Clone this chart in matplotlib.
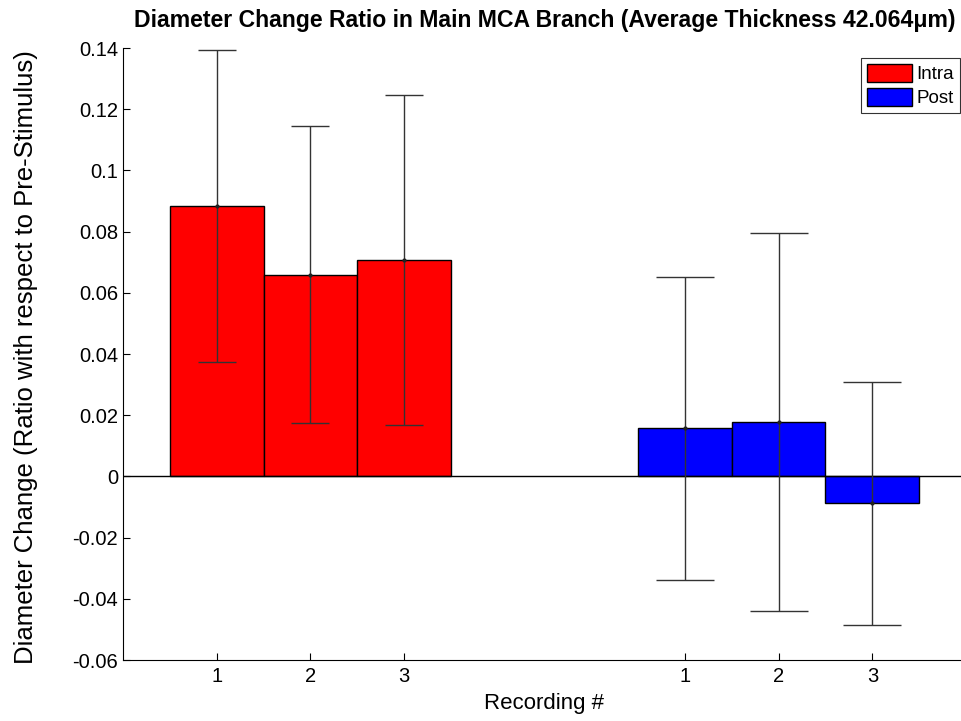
import matplotlib
matplotlib.use('Agg')
import matplotlib.pyplot as plt
import numpy as np

plt.rcParams['font.family'] = ['Liberation Sans', 'DejaVu Sans']

# Datos
recordings = ['1', '2', '3']
intra_mean = [0.0884, 0.0659, 0.0707]
intra_err = [0.0511, 0.0485, 0.0538]
post_mean = [0.0157, 0.0177, -0.0088]
post_err = [0.0494, 0.0618, 0.0396]
groups = [1, 2]
offsets = [-0.2, 0.0, 0.2]
bar_w = 0.2

fig = plt.figure(figsize=(9.62, 7.21), dpi=100)
ax = fig.add_axes([123 / 962, 61 / 721, 843 / 962, 612 / 721])

x_intra = groups[0] + np.array(offsets)
x_post = groups[1] + np.array(offsets)

ax.bar(x_intra, intra_mean, bar_w, color='#ff0000', edgecolor='black', linewidth=1, label='Intra', zorder=2)
ax.bar(x_post, post_mean, bar_w, color='#0000ff', edgecolor='black', linewidth=1, label='Post', zorder=2)

ax.errorbar(x_intra, intra_mean, yerr=intra_err, fmt='.', color='#222222', ecolor='#333333',
            elinewidth=1, capsize=14, capthick=1, markersize=4, zorder=3)
ax.errorbar(x_post, post_mean, yerr=post_err, fmt='.', color='#222222', ecolor='#333333',
            elinewidth=1, capsize=21, capthick=1, markersize=4, zorder=3)

ax.axhline(0, color='black', linewidth=1, zorder=2.5)

ax.set_xlim(0.6, 2.4)
ax.set_ylim(-0.06, 0.14)
ax.set_yticks(np.arange(-0.06, 0.141, 0.02))
ax.set_yticklabels(['-0.06', '-0.04', '-0.02', '0', '0.02', '0.04', '0.06', '0.08', '0.1', '0.12', '0.14'])
ax.set_xticks(list(x_intra) + list(x_post))
ax.set_xticklabels(recordings + recordings)
ax.tick_params(direction='in', length=5, labelsize=14.5, width=0.8)
ax.tick_params(axis='x', pad=5)

for side in ['top', 'right']:
    ax.spines[side].set_visible(False)

ax.set_title('Diameter Change Ratio in Main MCA Branch (Average Thickness 42.064\u03bcm)',
             fontsize=16.6, fontweight='bold', pad=15)
ax.set_xlabel('Recording #', fontsize=16)
ax.xaxis.set_label_coords(0.5, -0.054)
ax.set_ylabel('Diameter Change (Ratio with respect to Pre-Stimulus)', fontsize=18.5)
ax.yaxis.set_label_coords(-0.101, 0.495)

leg = ax.legend(loc='upper right', bbox_to_anchor=(960 / 962, 1 - 58 / 721),
                bbox_transform=fig.transFigure, borderaxespad=0, fancybox=False,
                edgecolor='black', fontsize=13.5, handlelength=2.4, handleheight=1.1,
                handletextpad=0.25, borderpad=0.3, labelspacing=0.25)
leg.get_frame().set_linewidth(0.8)

plt.savefig('out.png', dpi=100)
